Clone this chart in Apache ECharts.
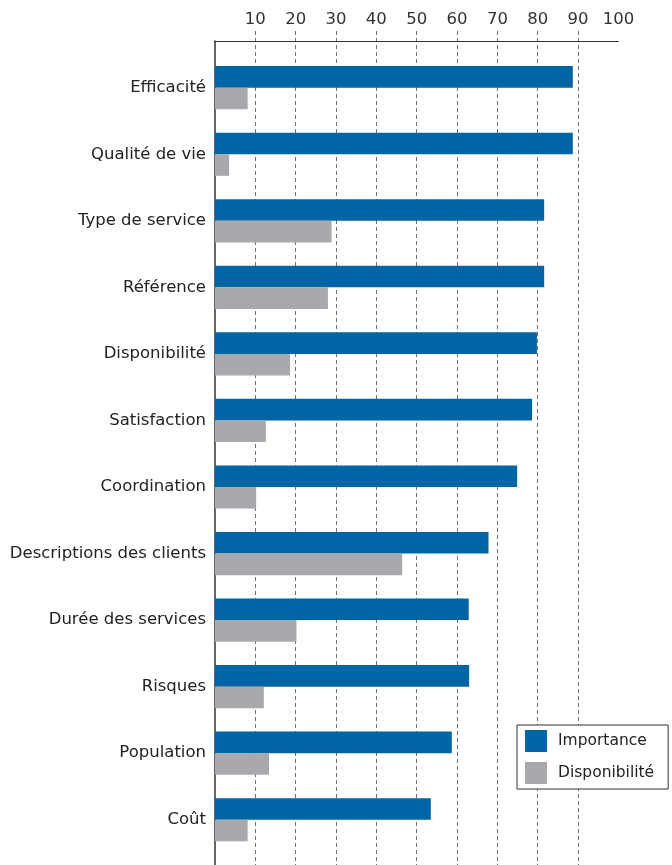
<!DOCTYPE html>
<html>
<head>
<meta charset="utf-8">
<script src="https://cdn.jsdelivr.net/npm/echarts@6/dist/echarts.min.js"></script>
<style>
  html, body { margin: 0; padding: 0; background: #fff; }
  #chart { width: 672px; height: 865px; }
</style>
</head>
<body>
<div id="chart"></div>
<script>
// catégories (de haut en bas)
const categories = [
  'Efficacité', 'Qualité de vie', 'Type de service', 'Référence',
  'Disponibilité', 'Satisfaction', 'Coordination', 'Descriptions des clients',
  'Durée des services', 'Risques', 'Population', 'Coût'
];
const importance = [88.7, 88.7, 81.6, 81.6, 79.8, 78.6, 74.9, 67.8, 62.9, 63.0, 58.7, 53.5];
const disponibilite = [8.1, 3.5, 28.9, 28.0, 18.6, 12.6, 10.2, 46.4, 20.2, 12.1, 13.4, 8.1];
const labelValues = [10, 20, 30, 40, 50, 60, 70, 80, 90, 100];

const FONT = '"DejaVu Sans", sans-serif';
const BLUE = '#0065a5';
const GREY = '#a8a9ad';
const DASH = '#707070';
const NONE = 'rgba(0,0,0,0)';

const chart = echarts.init(document.getElementById('chart'), null, { renderer: 'canvas' });

const option = {
  animation: false,
  backgroundColor: '#fff',
  grid: [
    // pointillés verticaux + libellés du haut
    { left: 215, right: 53.6, top: 31, bottom: 0 },
    // ligne d'axe du haut et ligne verticale
    { left: 215, right: 53.6, top: 41, bottom: 0 },
    // barres
    { left: 215, right: 53.6, top: 54.4, height: 798.6 }
  ],
  xAxis: [
    {
      gridIndex: 0,
      type: 'value',
      position: 'top',
      min: 0,
      max: 100,
      interval: 10,
      axisLine: { show: false },
      axisTick: { show: false },
      axisLabel: {
        customValues: labelValues,
        margin: 3,
        fontFamily: FONT,
        fontSize: 16.5,
        color: '#333'
      },
      splitLine: {
        show: true,
        // pas de pointillés à 0 ni à 100
        lineStyle: {
          color: [NONE, DASH, DASH, DASH, DASH, DASH, DASH, DASH, DASH, DASH, NONE],
          type: [4, 3],
          width: 1
        }
      }
    },
    {
      gridIndex: 1,
      type: 'value',
      position: 'top',
      min: 0,
      max: 100,
      axisLine: { show: true, onZero: false, lineStyle: { color: '#333', width: 1 } },
      axisTick: { show: false },
      axisLabel: { show: false },
      splitLine: { show: false }
    },
    {
      gridIndex: 2,
      type: 'value',
      min: 0,
      max: 100,
      show: false
    }
  ],
  yAxis: [
    {
      gridIndex: 0,
      type: 'value',
      min: 0,
      max: 1,
      show: false
    },
    {
      gridIndex: 1,
      type: 'value',
      min: 0,
      max: 1,
      axisLine: { show: true, onZero: false, lineStyle: { color: '#333', width: 1.5 } },
      axisTick: { show: false },
      axisLabel: { show: false },
      splitLine: { show: false }
    },
    {
      gridIndex: 2,
      type: 'category',
      inverse: true,
      data: categories,
      axisLine: { show: false },
      axisTick: { show: false },
      axisLabel: {
        margin: 9,
        fontFamily: FONT,
        fontSize: 16.5,
        color: '#222'
      }
    }
  ],
  legend: {
    orient: 'vertical',
    left: 517,
    top: 725,
    icon: 'rect',
    itemWidth: 22,
    itemHeight: 22,
    itemGap: 10,
    padding: [5, 14, 5, 8],
    borderColor: '#333',
    borderWidth: 1,
    backgroundColor: '#fff',
    z: 10,
    textStyle: {
      fontFamily: FONT,
      fontSize: 15.5,
      color: '#222',
      padding: [0, 0, 0, 6]
    },
    data: ['Importance', 'Disponibilité']
  },
  series: [
    {
      name: 'Importance',
      type: 'bar',
      xAxisIndex: 2,
      yAxisIndex: 2,
      data: importance,
      barWidth: 21.6,
      barGap: '0%',
      itemStyle: { color: BLUE }
    },
    {
      name: 'Disponibilité',
      type: 'bar',
      xAxisIndex: 2,
      yAxisIndex: 2,
      data: disponibilite,
      barWidth: 21.6,
      barGap: '0%',
      itemStyle: { color: GREY }
    }
  ]
};

chart.setOption(option);
</script>
</body>
</html>
